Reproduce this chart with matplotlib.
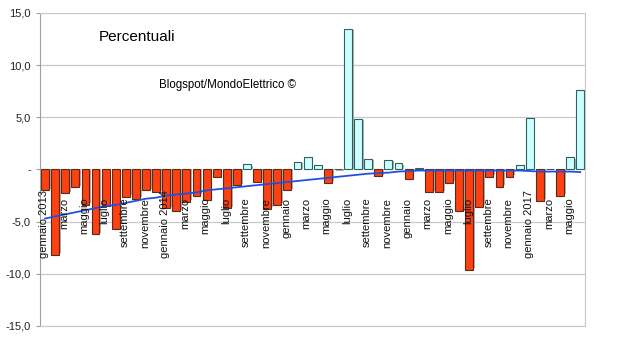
import matplotlib
matplotlib.use("Agg")
import matplotlib.pyplot as plt
from matplotlib.ticker import FuncFormatter
import numpy as np

plt.rcParams['font.family'] = ['Liberation Sans', 'DejaVu Sans']

# mesi da gennaio 2013 a giugno 2017
mesi = ["gennaio 2013", "", "marzo", "", "maggio", "", "luglio", "", "settembre", "", "novembre", "",
        "gennaio 2014", "", "marzo", "", "maggio", "", "luglio", "", "settembre", "", "novembre", "",
        "gennaio", "", "marzo", "", "maggio", "", "luglio", "", "settembre", "", "novembre", "",
        "gennaio", "", "marzo", "", "maggio", "", "luglio", "", "settembre", "", "novembre", "",
        "gennaio 2017", "", "marzo", "", "maggio", ""]

variazioni = [-2.0, -8.2, -2.3, -1.7, -3.4, -6.2, -3.5, -5.7, -2.6, -2.8, -2.0, -2.2,
              -3.7, -4.0, -3.1, -2.5, -2.9, -0.75, -3.7, -1.5, 0.5, -1.2, -3.75, -3.4,
              -2.0, 0.75, 1.15, 0.4, -1.25, 0.05, 13.5, 4.85, 1.05, -0.65, 0.95, 0.6,
              -0.95, 0.1, -2.2, -2.2, -1.25, -4.0, -9.6, -3.6, -0.7, -1.65, -0.7, 0.45,
              4.9, -3.0, 0.0, -2.5, 1.15, 7.6]

tendenza = [-4.7, -4.5, -4.3, -4.1, -3.9, -3.7, -3.5, -3.4, -3.2, -3.0, -2.8, -2.7,
            -2.5, -2.4, -2.3, -2.2, -2.0, -1.9, -1.8, -1.7, -1.6, -1.5, -1.4, -1.3,
            -1.2, -1.1, -1.0, -0.9, -0.8, -0.7, -0.6, -0.5, -0.4, -0.35, -0.3, -0.2,
            -0.15, -0.1, -0.1, -0.1, -0.1, -0.1, -0.1, -0.1, -0.1, -0.1, -0.1, -0.1,
            -0.15, -0.2, -0.2, -0.2, -0.2, -0.25]

x = np.arange(len(variazioni))
v = np.array(variazioni)
colori = ["#FF4010" if val < 0 else "#CCFFFF" for val in v]
bordi = ["#5a2a1a" if val < 0 else "#2f5f5f" for val in v]

fig = plt.figure(figsize=(6.4, 3.58), dpi=100)
ax = fig.add_axes([0.0625, 0.0894, 0.852, 0.8743])

for yy in [-15, -10, -5, 5, 10, 15]:
    ax.axhline(yy, color="#c8c8c8", lw=0.9, zorder=0)

# ombra delle barre
ax.bar(x + 0.18, v - np.sign(v) * 0.15, width=0.78, color="#b0b0b0", zorder=1, linewidth=0)
ax.bar(x, v, width=0.78, color=colori, edgecolor=bordi, linewidth=0.8, zorder=2)
ax.plot(x, tendenza, color="#2050e0", lw=1.3, zorder=3)

ax.set_xlim(-0.5, len(v) - 0.5)
ax.set_ylim(-15, 15)
ax.set_yticks([-15, -10, -5, 0, 5, 10, 15])
ax.yaxis.set_major_formatter(FuncFormatter(
    lambda val, pos: "-" if val == 0 else ("%.1f" % val).replace(".", ",")))
ax.tick_params(axis="y", labelsize=8, colors="#222222", length=3, color="#a0a0a0")
ax.set_xticks([])

for s in ["top", "right", "bottom"]:
    ax.spines[s].set_color("#c8c8c8")
ax.spines["left"].set_color("#a0a0a0")

for i, lab in enumerate(mesi):
    if lab:
        top = -2.0 if " " in lab else -2.7
        ax.text(i - 0.1, top, lab, rotation=90, ha="center", va="top", fontsize=8,
                color="#111111", zorder=4)

ax.text(0.107, 0.923, "Percentuali", transform=ax.transAxes, fontsize=11, va="center")
ax.text(0.219, 0.77, "Blogspot/MondoElettrico \u00a9", transform=ax.transAxes,
        fontsize=8.3, va="center")

fig.savefig("out.png", dpi=100)
